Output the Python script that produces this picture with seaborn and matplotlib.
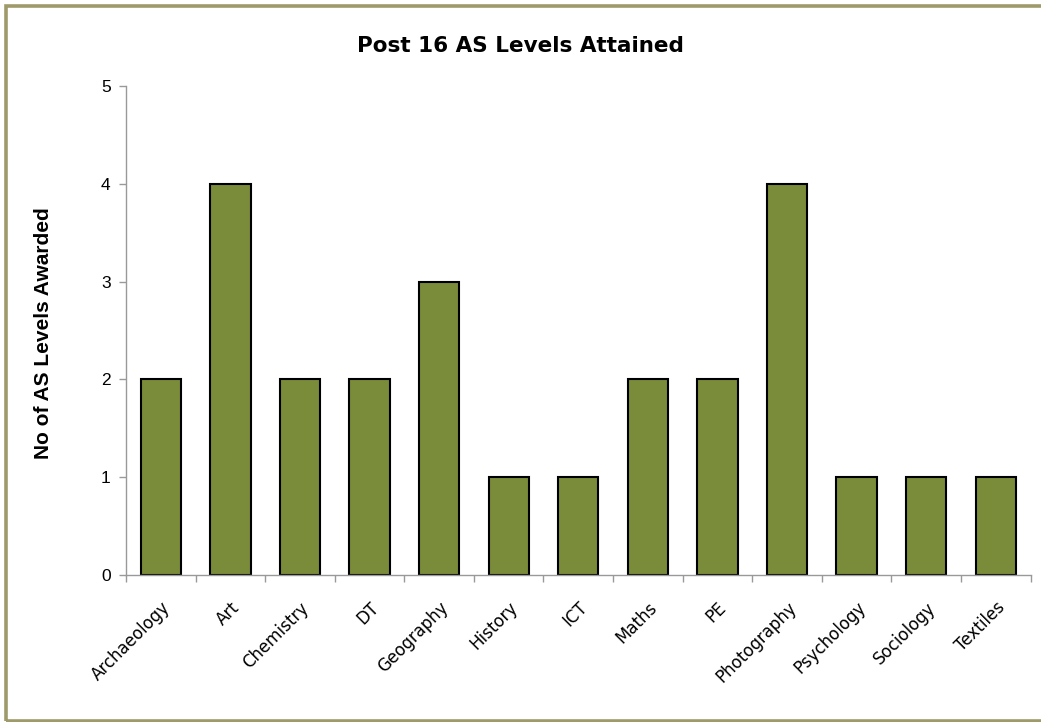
import matplotlib
matplotlib.use("Agg")
import matplotlib.pyplot as plt
import matplotlib.patches as patches
import pandas as pd
import seaborn as sns
import numpy as np

# data
subjects = ["Archaeology", "Art", "Chemistry", "DT", "Geography", "History", "ICT",
            "Maths", "PE", "Photography", "Psychology", "Sociology", "Textiles"]
awarded = [2, 4, 2, 2, 3, 1, 1, 2, 2, 4, 1, 1, 1]

df = pd.DataFrame({"subject": subjects, "awarded": awarded})

sns.set_style("white")
plt.rcParams['font.family'] = ['DejaVu Sans']
plt.rcParams['text.color'] = 'black'
plt.rcParams['axes.labelcolor'] = 'black'
plt.rcParams['xtick.color'] = 'black'
plt.rcParams['ytick.color'] = 'black'

fig = plt.figure(figsize=(10.41, 7.22), dpi=100)
ax = fig.add_axes([0.121, 0.2036, 0.869, 0.677])

sns.barplot(data=df, x="subject", y="awarded", color="#7A8B3A", saturation=1,
            width=0.58, edgecolor="black", linewidth=1.5, ax=ax)

ax.set_ylim(0, 5)
ax.set_xlim(-0.5, len(subjects) - 0.5)
ax.set_yticks(range(0, 6))
ax.set_yticklabels([str(v) for v in range(0, 6)], family='Liberation Sans', fontsize=12.5)
ax.tick_params(axis='y', left=True, length=5, width=1, color="#999999", labelcolor='black', pad=6)
ax.set_xticks(range(len(subjects)))
ax.set_xticklabels(subjects, rotation=45, ha='right', rotation_mode='anchor', fontsize=12)
ax.tick_params(axis='x', which='major', bottom=True, length=0, pad=17, labelcolor='black')
ax.set_xticks(np.arange(-0.5, len(subjects), 1), minor=True)
ax.tick_params(axis='x', which='minor', bottom=True, length=5, width=1, color="#999999")

for s in ['top', 'right']:
    ax.spines[s].set_visible(False)
for s in ['left', 'bottom']:
    ax.spines[s].set_color("#999999")
    ax.spines[s].set_linewidth(1)

ax.set_xlabel("")
ax.set_ylabel("No of AS Levels Awarded", fontsize=15, weight='bold', family='Liberation Sans',
              color='black')
ax.yaxis.set_label_coords(-0.081, 0.495)
fig.suptitle("Post 16 AS Levels Attained", fontsize=15.5, weight='bold', y=0.95, color='black')

# outer frame (open on the right, like the original)
fig.patches.append(patches.Rectangle((6 / 1041, 1.5 / 722), 1060 / 1041, 714.5 / 722,
                                     transform=fig.transFigure, fill=False, clip_on=False,
                                     edgecolor="#9E9A6A", linewidth=2.6))

fig.savefig("out.png", dpi=100)
